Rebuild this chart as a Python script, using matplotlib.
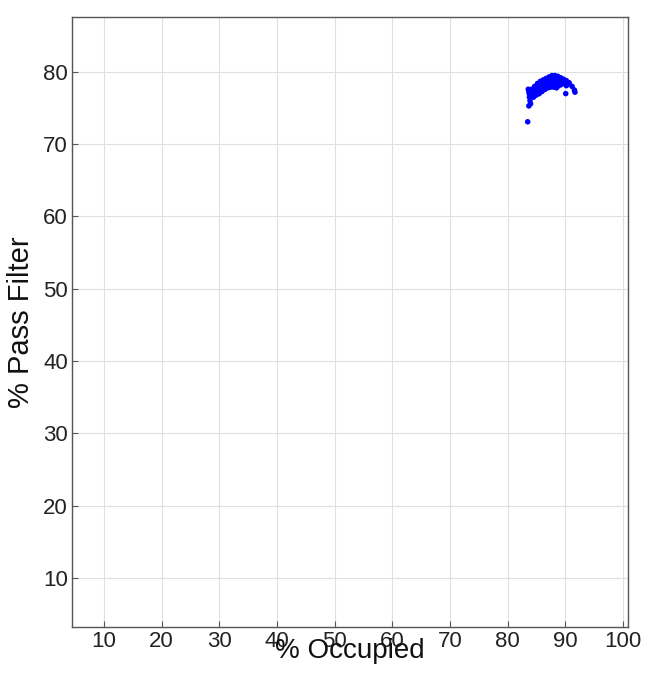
import matplotlib.pyplot as plt

plt.rcParams['font.family'] = ['Liberation Sans', 'DejaVu Sans']

# Data
occupied = [
    83.5, 83.7, 83.8, 83.9, 84.0, 83.7, 83.8,
    84.2, 84.7, 85.2, 85.7, 86.2, 86.7, 87.2, 87.7, 88.2, 88.7, 89.2, 89.7, 90.2, 90.7, 91.2, 91.6,
    84.2, 84.7, 85.2, 85.7, 86.2, 86.7, 87.2, 87.7, 88.2, 88.7, 89.2, 89.7, 90.2,
    84.5, 85.0, 85.5, 86.0, 86.5, 87.0, 87.5, 88.0, 88.5, 89.0, 89.5, 90.0, 90.5,
    84.0, 84.4, 84.9, 85.4, 85.9, 86.4, 86.9, 87.4, 87.9, 88.4, 88.9, 89.4,
    84.5, 85.0, 85.5, 86.0, 86.5, 87.0, 87.5, 88.0, 88.5,
    90.1, 91.7, 83.6,
]
pass_filter = [
    73.1, 77.2, 76.5, 76.0, 75.6, 75.3, 76.9,
    77.6, 78.0, 78.4, 78.7, 78.9, 79.1, 79.3, 79.5, 79.5, 79.4, 79.2, 79.0, 78.8, 78.5, 78.0, 77.5,
    76.8, 77.2, 77.5, 77.8, 78.0, 78.2, 78.3, 78.3, 78.2, 78.0, 78.2, 78.4, 78.1,
    77.5, 77.9, 78.2, 78.5, 78.6, 78.8, 78.9, 78.9, 78.8, 78.7, 78.6, 78.5, 78.3,
    77.0, 77.3, 77.6, 78.0, 78.3, 78.4, 78.5, 78.6, 78.6, 78.5, 78.4, 78.9,
    76.5, 76.8, 77.0, 77.3, 77.6, 77.8, 77.9, 77.9, 77.8,
    77.0, 77.2, 77.6,
]

fig = plt.figure(figsize=(6.5, 6.82), dpi=100)
ax = fig.add_axes([72 / 650, 1 - 627 / 682, 556 / 650, 610 / 682])

ax.scatter(occupied, pass_filter, s=16, color='#0000ff', edgecolors='none', zorder=3)

ax.set_xlim(4.45, 100.9)
ax.set_ylim(3.2, 87.6)
ax.set_xticks(range(10, 101, 10))
ax.set_yticks(range(10, 81, 10))
ax.grid(True, color='#e0e0e0', linewidth=0.8)
ax.set_axisbelow(True)

for s in ax.spines.values():
    s.set_color('#555555')
    s.set_linewidth(1.0)
ax.tick_params(direction='in', length=4, color='#555555', labelsize=16, labelcolor='#222222', pad=3)

ax.set_xlabel('% Occupied', fontsize=20, labelpad=-10, color='#111111')
ax.set_ylabel('% Pass Filter', fontsize=21, labelpad=6, color='#111111')

fig.savefig('out.png', dpi=100)
